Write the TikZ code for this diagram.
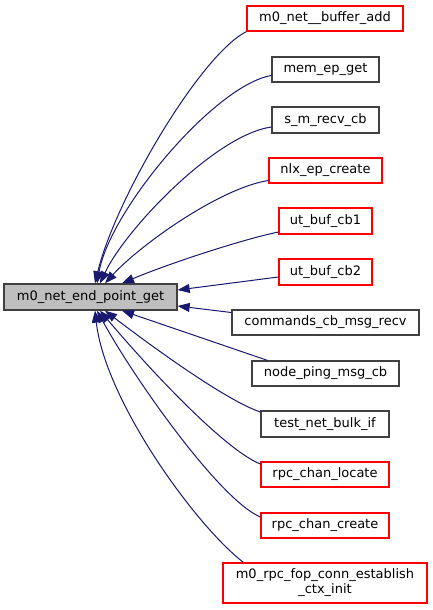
\documentclass[tikz,border=0pt]{standalone}
\usepackage{fontspec}
\setmainfont{DejaVu Sans}
\usetikzlibrary{arrows.meta,calc}
\definecolor{edgeblue}{HTML}{191970}
\definecolor{greyD}{HTML}{404040}
\definecolor{greyL}{HTML}{BFBFBF}
\definecolor{redbd}{HTML}{FF0000}
\begin{document}
\begin{tikzpicture}[x=1pt,y=-1pt,
  box/.style={draw=greyD, line width=1.3pt, inner sep=0pt, fill=white,
    font=\fontsize{13}{15}\selectfont, align=center, minimum height=25pt},
  redbox/.style={box, draw=redbd},
  edge/.style={draw=edgeblue, line width=1pt, {Triangle[length=12pt,width=9pt]}-}]
\useasboundingbox[fill=white] (0,0) rectangle (432,610);

\node[box, fill=greyL, minimum width=173pt, minimum height=26pt] (main) at (90.5,297) {m0\_net\_end\_point\_get};

\node[redbox, minimum width=156pt] (n1) at (325,18.5) {m0\_net\_\_buffer\_add};
\node[box, minimum width=107pt] (n2) at (325.5,69.5) {mem\_ep\_get};
\node[box, minimum width=107pt, minimum height=26pt] (n3) at (325.5,120) {s\_m\_recv\_cb};
\node[redbox, minimum width=113pt] (n4) at (325.5,170.5) {nlx\_ep\_create};
\node[redbox, minimum width=93pt, minimum height=26pt] (n5) at (325.5,221) {ut\_buf\_cb1};
\node[redbox, minimum width=93pt, minimum height=26pt] (n6) at (325.5,272) {ut\_buf\_cb2};
\node[box, minimum width=187pt] (n7) at (325.5,322.5) {commands\_cb\_msg\_recv};
\node[box, minimum width=147pt] (n8) at (325.5,373.5) {node\_ping\_msg\_cb};
\node[box, minimum width=128pt, minimum height=26pt] (n9) at (325,424) {test\_net\_bulk\_if};
\node[redbox, minimum width=128pt] (n10) at (325,474.5) {rpc\_chan\_locate};
\node[redbox, minimum width=128pt] (n11) at (325,525.5) {rpc\_chan\_create};
\node[box, draw=redbd, minimum width=204pt, minimum height=40pt] (n12) at (325,583) {m0\_rpc\_fop\_conn\_establish\\\_ctx\_init};

% edges to top of main
\draw[edge] ($(main.north)+(4.5,0)$) .. controls (115,200) and (200,55) .. (n1.south west);
\draw[edge] ($(main.north)+(6.5,0)$) .. controls (110,210) and (215,85) .. ($(n2.west)+(0,6)$);
\draw[edge] ($(main.north)+(9.5,0)$) .. controls (125,230) and (215,135) .. ($(n3.west)+(0,7)$);
\draw[edge] ($(main.north)+(14.5,0)$) .. controls (140,245) and (220,188) .. ($(n4.west)+(0,10)$);
\draw[edge] ($(main.north)+(31.5,0)$) .. controls (165,265) and (240,240) .. ($(n5.west)+(0,11)$);
% edges to right side
\draw[edge] ($(main.east)+(0,-7)$) -- ($(n6.west)+(0,5)$);
\draw[edge] ($(main.east)+(0,9)$) -- ($(n7.west)+(0,-10)$);
% edges to bottom
\draw[edge] ($(main.south)+(31.5,0)$) -- ($(n8.north west)+(16,0)$);
\draw[edge] ($(main.south)+(14.5,0)$) .. controls (150,345) and (225,400) .. ($(n9.west)+(0,-12)$);
\draw[edge] ($(main.south)+(9.5,0)$) .. controls (150,370) and (225,450) .. ($(n10.west)+(0,-10.5)$);
\draw[edge] ($(main.south)+(6.5,0)$) .. controls (135,380) and (220,500) .. ($(n11.west)+(0,-8.5)$);
\draw[edge] ($(main.south)+(4.5,0)$) .. controls (105,400) and (195,525) .. ($(n12.north west)+(21,0)$);
\end{tikzpicture}
\end{document}
